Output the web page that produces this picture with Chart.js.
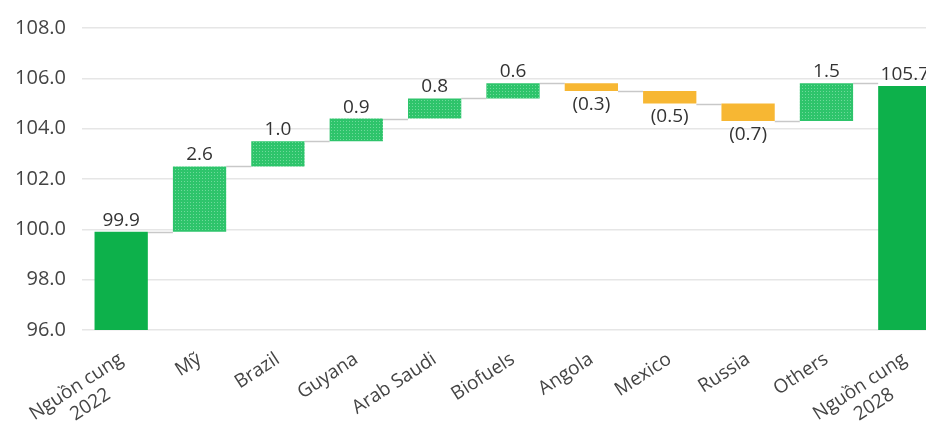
<!DOCTYPE html>
<html>
<head>
<meta charset="utf-8">
<script src="https://cdn.jsdelivr.net/npm/chart.js@4/dist/chart.umd.min.js"></script>
<style>
	html, body { margin: 0; padding: 0; background: #fff; overflow: hidden; }
	#wrap { width: 952px; height: 432px; }
</style>
</head>
<body>
<div id="wrap"><canvas id="myChart"></canvas></div>
<script>

var categories = [["Nguồn cung", "2022"], "Mỹ", "Brazil", "Guyana", "Arab Saudi", "Biofuels", "Angola", "Mexico", "Russia", "Others", ["Nguồn cung", "2028"]];
var startTotal = 99.9;
var changes = [2.6, 1.0, 0.9, 0.8, 0.6, -0.3, -0.5, -0.7, 1.5];
var endTotal = 105.7;
var yTicks = [96, 98, 100, 102, 104, 106, 108];

var green = "#0db14b";
var orange = "#f7b733";
var tickFont = "'Open Sans'";

// dotted fill for the increase steps
function dotPattern() {
	var c = document.createElement("canvas");
	c.width = 3;
	c.height = 3;
	var g = c.getContext("2d");
	g.fillStyle = "#2ec46b";
	g.fillRect(0, 0, 3, 3);
	g.fillStyle = "#6fd99b";
	g.fillRect(1, 1, 1, 1);
	return g.createPattern(c, "repeat");
}
var dots = dotPattern();

// floating bars: totals sit on the axis floor, steps float on the running total
var bars = [];
var colors = [];
var labels = [];
var levels = [];
var running = startTotal;
bars.push([yTicks[0], startTotal]);
colors.push(green);
labels.push(startTotal.toFixed(1));
levels.push(startTotal);
changes.forEach(function(d) {
	var from = running;
	running = Math.round((running + d) * 10) / 10;
	bars.push([from, running]);
	colors.push(d >= 0 ? dots : orange);
	labels.push(d >= 0 ? d.toFixed(1) : "(" + Math.abs(d).toFixed(1) + ")");
	levels.push(running);
});
bars.push([yTicks[0], endTotal]);
colors.push(green);
labels.push(endTotal.toFixed(1));
levels.push(endTotal);

// rotated labels are right aligned, so pad the short line to sit centred under the long one
var measure = document.createElement("canvas").getContext("2d");
measure.font = "19px " + tickFont;
function centreLines(lines) {
	if (!Array.isArray(lines)) return lines;
	var widths = lines.map(function(s) { return measure.measureText(s).width; });
	var widest = Math.max.apply(null, widths);
	var space = measure.measureText(" ").width;
	return lines.map(function(s, i) {
		var n = Math.round((widest - widths[i]) / 2 / space);
		return s + " ".repeat(n);
	});
}

var connectors = {
	id: "connectors",
	beforeDatasetsDraw: function(chart) {
		var ctx = chart.ctx;
		var meta = chart.getDatasetMeta(0);
		var y = chart.scales.y;
		ctx.save();
		ctx.strokeStyle = "#c8c8c8";
		ctx.lineWidth = 1.5;
		for (var i = 0; i < meta.data.length - 1; i++) {
			var a = meta.data[i], b = meta.data[i + 1];
			var py = Math.round(y.getPixelForValue(levels[i])) + 0.5;
			ctx.beginPath();
			ctx.moveTo(a.x + a.width / 2, py);
			ctx.lineTo(b.x - b.width / 2, py);
			ctx.stroke();
		}
		ctx.restore();
	}
};

var valueLabels = {
	id: "valueLabels",
	afterDatasetsDraw: function(chart) {
		var ctx = chart.ctx;
		var meta = chart.getDatasetMeta(0);
		ctx.save();
		ctx.font = "19px " + tickFont;
		ctx.fillStyle = "#333";
		ctx.textAlign = "center";
		meta.data.forEach(function(bar, i) {
			var top = Math.min(bar.y, bar.base);
			var bottom = Math.max(bar.y, bar.base);
			if (labels[i].charAt(0) === "(") {
				ctx.textBaseline = "top";
				ctx.fillText(labels[i], bar.x, bottom + 4);
			} else {
				ctx.textBaseline = "bottom";
				ctx.fillText(labels[i], bar.x, top - 2);
			}
		});
		ctx.restore();
	}
};

var ctx = document.getElementById("myChart");

var myChart = new Chart(ctx, {
	type: "bar",
	data: {
		labels: categories,
		datasets: [{
			data: bars,
			backgroundColor: colors,
			borderWidth: 0,
			barPercentage: 0.68,
			categoryPercentage: 1
		}]
	},
	options: {
		responsive: true,
		maintainAspectRatio: false,
		animation: false,
		layout: {
			autoPadding: false,
			padding: { left: 14, right: 8, top: 21, bottom: 0 }
		},
		plugins: {
			legend: { display: false },
			tooltip: { enabled: false }
		},
		scales: {
			x: {
				grid: { display: false },
				border: { display: false },
				afterFit: function(axis) { axis.height = 102; },
				ticks: {
					color: "#444",
					font: { family: tickFont, size: 19 },
					minRotation: 33,
					maxRotation: 33,
					autoSkip: false,
					padding: 10,
					callback: function(v, i) { return centreLines(categories[i]); }
				}
			},
			y: {
				min: yTicks[0],
				max: yTicks[yTicks.length - 1],
				grid: { color: "#e6e6e6", lineWidth: 1.5, drawTicks: false },
				border: { display: false },
				afterFit: function(axis) { axis.width = 68; },
				afterBuildTicks: function(axis) {
					axis.ticks = yTicks.map(function(v) { return { value: v }; });
				},
				ticks: {
					color: "#444",
					font: { family: tickFont, size: 20 },
					padding: 16,
					callback: function(v) { return v.toFixed(1); }
				}
			}
		}
	},
	plugins: [connectors, valueLabels]
});

</script>
</body>
</html>
